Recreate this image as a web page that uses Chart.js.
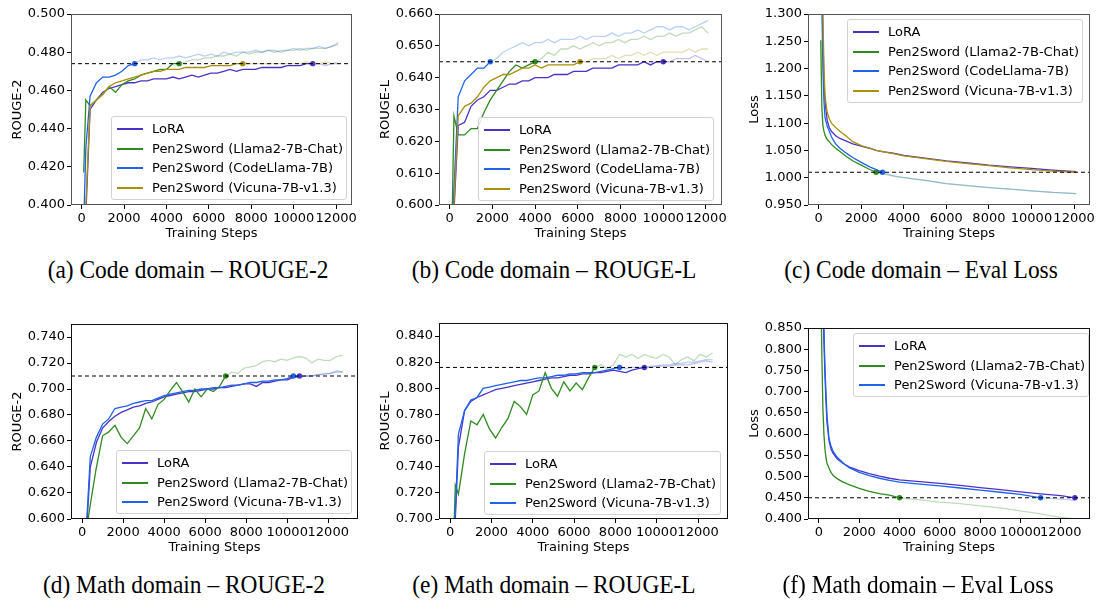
<!DOCTYPE html>
<html lang="en">
<head>
<meta charset="utf-8">
<title>Pen2Sword training curves</title>
<script src="https://cdn.jsdelivr.net/npm/chart.js"></script>
<style>
  body { margin: 0; width: 1097px; height: 600px; position: relative; overflow: hidden; background: #fff; }
  canvas { position: absolute; }
  .legend { position: absolute; box-sizing: border-box; border: 1px solid #d2d2d2; border-radius: 3px; background: rgba(255,255,255,0.85); font-family: "DejaVu Sans", sans-serif; font-size: 13px; color: #000; }
  .legend .row { position: absolute; left: 0; right: 0; height: 16px; line-height: 16px; white-space: nowrap; }
  .legend .sw { position: absolute; left: 5px; top: 7px; width: 26px; height: 2px; }
  .legend .lbl { position: absolute; left: 40px; top: 0; }
  .caption { position: absolute; width: 360px; text-align: center; white-space: nowrap; font-family: "Liberation Serif", "Times New Roman", serif; font-size: 26px; line-height: 28px; color: #000; transform: scaleX(0.9); transform-origin: 50% 50%; }
</style>
</head>
<body>
<script>
// ---------- data ----------
const codeSeries = ['LoRA', 'Pen2Sword (Llama2-7B-Chat)', 'Pen2Sword (CodeLlama-7B)', 'Pen2Sword (Vicuna-7B-v1.3)'];
const mathSeries = ['LoRA', 'Pen2Sword (Llama2-7B-Chat)', 'Pen2Sword (Vicuna-7B-v1.3)'];

const xTicks = [0, 2000, 4000, 6000, 8000, 10000, 12000];

// code domain, ROUGE steps
const codeSteps = [100, 200, 400, 700, 1000, 1300, 1600, 1900, 2200, 2500,
  2800, 3100, 3400, 3700, 4000, 4300, 4600, 4900, 5200, 5500,
  5800, 6100, 6400, 6700, 7000, 7300, 7600, 7900, 8200, 8500,
  8800, 9100, 9400, 9700, 10000, 10300, 10600, 10900, 11200, 11500,
  11800, 12100];

// (a) ROUGE-2
const codeR2Lora = [0.370, 0.395, 0.450, 0.455, 0.459, 0.461, 0.462, 0.463, 0.464, 0.464,
  0.465, 0.465, 0.466, 0.466, 0.466, 0.467, 0.466, 0.467, 0.468, 0.467,
  0.468, 0.469, 0.469, 0.470, 0.471, 0.470, 0.471, 0.471, 0.471, 0.472,
  0.472, 0.472, 0.472, 0.473, 0.473, 0.473, 0.474, 0.474, 0.474, 0.473,
  0.474, 0.474];
const codeR2Llama = [0.417, 0.455, 0.452, 0.455, 0.458, 0.462, 0.459, 0.463, 0.465, 0.466,
  0.468, 0.469, 0.470, 0.471, 0.471, 0.474, 0.474, 0.475, 0.476, 0.476,
  0.477, 0.477, 0.478, 0.478, 0.479, 0.478, 0.480, 0.479, 0.480, 0.480,
  0.481, 0.480, 0.481, 0.481, 0.481, 0.482, 0.481, 0.482, 0.482, 0.482,
  0.483, 0.484];
const codeR2CodeLlama = [0.390, 0.430, 0.457, 0.464, 0.467, 0.467, 0.468, 0.470, 0.473, 0.474,
  0.476, 0.476, 0.477, 0.476, 0.477, 0.477, 0.478, 0.477, 0.478, 0.479,
  0.478, 0.479, 0.478, 0.480, 0.479, 0.480, 0.480, 0.480, 0.481, 0.480,
  0.481, 0.481, 0.480, 0.481, 0.482, 0.481, 0.482, 0.482, 0.483, 0.482,
  0.483, 0.485];
const codeR2Vicuna = [0.370, 0.400, 0.452, 0.455, 0.458, 0.462, 0.464, 0.465, 0.466, 0.467,
  0.468, 0.469, 0.470, 0.470, 0.471, 0.471, 0.471, 0.472, 0.472, 0.472,
  0.472, 0.473, 0.473, 0.473, 0.473, 0.474, 0.474, 0.474, 0.474, 0.474,
  0.474, 0.474, 0.474, 0.474, 0.474, 0.474, 0.475, 0.474, 0.474, 0.475,
  0.474, 0.475];
const codeR2Best = [10900, 4600, 2500, 7600];
const codeR2Line = 0.474;
const codeR2Ticks = [0.40, 0.42, 0.44, 0.46, 0.48, 0.50];

// (b) ROUGE-L
const codeRLLora = [0.585, 0.598, 0.625, 0.626, 0.631, 0.633, 0.634, 0.636, 0.636, 0.637,
  0.638, 0.638, 0.639, 0.639, 0.640, 0.640, 0.640, 0.641, 0.641, 0.641,
  0.642, 0.642, 0.642, 0.643, 0.643, 0.643, 0.643, 0.644, 0.644, 0.644,
  0.644, 0.645, 0.644, 0.645, 0.645, 0.645, 0.646, 0.646, 0.646, 0.647,
  0.646, 0.645];
const codeRLLlama = [0.590, 0.628, 0.622, 0.622, 0.624, 0.624, 0.629, 0.633, 0.636, 0.639,
  0.642, 0.644, 0.643, 0.644, 0.645, 0.646, 0.648, 0.647, 0.649, 0.649,
  0.650, 0.649, 0.650, 0.651, 0.650, 0.651, 0.651, 0.652, 0.651, 0.652,
  0.652, 0.653, 0.652, 0.653, 0.653, 0.654, 0.653, 0.654, 0.654, 0.655,
  0.656, 0.654];
const codeRLCodeLlama = [0.590, 0.605, 0.634, 0.639, 0.641, 0.643, 0.643, 0.645, 0.646, 0.648,
  0.649, 0.650, 0.651, 0.650, 0.651, 0.651, 0.652, 0.651, 0.652, 0.652,
  0.652, 0.653, 0.652, 0.653, 0.653, 0.653, 0.654, 0.653, 0.654, 0.654,
  0.655, 0.654, 0.655, 0.656, 0.656, 0.655, 0.656, 0.656, 0.655, 0.656,
  0.657, 0.658];
const codeRLVicuna = [0.590, 0.600, 0.628, 0.631, 0.632, 0.634, 0.637, 0.639, 0.640, 0.641,
  0.641, 0.642, 0.643, 0.643, 0.644, 0.643, 0.644, 0.644, 0.644, 0.644,
  0.644, 0.645, 0.645, 0.646, 0.646, 0.646, 0.647, 0.646, 0.647, 0.647,
  0.648, 0.647, 0.648, 0.647, 0.648, 0.648, 0.648, 0.648, 0.649, 0.648,
  0.649, 0.649];
const codeRLBest = [10000, 4000, 1900, 6100];
const codeRLLine = 0.645;
const codeRLTicks = [0.60, 0.61, 0.62, 0.63, 0.64, 0.65, 0.66];

// (c) eval loss
const codeLossSteps = [100, 150, 200, 250, 300, 400, 500, 600, 800, 1000,
  1300, 1600, 2000, 2400, 2700, 3000, 3500, 4000, 5000, 6000,
  7000, 8000, 9000, 10000, 11000, 12100];
const codeLossLora = [1.550, 1.400, 1.260, 1.180, 1.140, 1.105, 1.092, 1.085, 1.077, 1.072,
  1.067, 1.062, 1.058, 1.054, 1.050, 1.048, 1.045, 1.041, 1.036, 1.031,
  1.027, 1.023, 1.020, 1.017, 1.014, 1.011];
const codeLossLlama = [1.252, 1.130, 1.095, 1.085, 1.078, 1.070, 1.066, 1.061, 1.054, 1.048,
  1.039, 1.031, 1.023, 1.015, 1.010, 1.007, 1.003, 1.000, 0.995, 0.989,
  0.986, 0.982, 0.979, 0.976, 0.973, 0.971];
const codeLossCodeLlama = [1.450, 1.320, 1.200, 1.140, 1.110, 1.095, 1.085, 1.075, 1.062, 1.054,
  1.045, 1.037, 1.028, 1.020, 1.015, 1.010, 1.004, 1.000, 0.995, 0.989,
  0.985, 0.982, 0.979, 0.976, 0.973, 0.971];
const codeLossVicuna = [1.600, 1.450, 1.300, 1.200, 1.150, 1.120, 1.108, 1.100, 1.092, 1.085,
  1.076, 1.066, 1.059, 1.054, 1.050, 1.048, 1.044, 1.040, 1.035, 1.030,
  1.026, 1.022, 1.018, 1.015, 1.012, 1.010];
const codeLossBest = [null, 2700, 3000, null];
const codeLossLine = 1.010;
const codeLossTicks = [0.95, 1.00, 1.05, 1.10, 1.15, 1.20, 1.25, 1.30];

// math domain, ROUGE steps
const mathSteps = [100, 250, 400, 700, 1000, 1300, 1600, 1900, 2200, 2500,
  2800, 3100, 3400, 3700, 4000, 4300, 4600, 4900, 5200, 5500,
  5800, 6100, 6400, 6700, 7000, 7300, 7600, 7900, 8200, 8500,
  8800, 9100, 9400, 9700, 10000, 10300, 10600, 10900, 11200, 11500,
  11800, 12100, 12400, 12700];

// (d) ROUGE-2
const mathR2Lora = [0.560, 0.600, 0.640, 0.659, 0.670, 0.675, 0.679, 0.682, 0.684, 0.686,
  0.687, 0.689, 0.690, 0.692, 0.694, 0.695, 0.696, 0.697, 0.698, 0.698,
  0.699, 0.700, 0.700, 0.701, 0.701, 0.702, 0.703, 0.704, 0.704, 0.702,
  0.705, 0.705, 0.706, 0.707, 0.707, 0.709, 0.710, 0.710, 0.710, 0.711,
  0.711, 0.712, 0.713, 0.713];
const mathR2Llama = [0.560, 0.595, 0.611, 0.640, 0.664, 0.667, 0.672, 0.663, 0.658, 0.664,
  0.670, 0.685, 0.677, 0.688, 0.692, 0.699, 0.705, 0.698, 0.690, 0.700,
  0.694, 0.700, 0.698, 0.702, 0.710, 0.713, 0.712, 0.716, 0.717, 0.718,
  0.721, 0.722, 0.721, 0.723, 0.722, 0.724, 0.725, 0.724, 0.720, 0.723,
  0.722, 0.722, 0.725, 0.726];
const mathR2Vicuna = [0.560, 0.605, 0.648, 0.663, 0.673, 0.677, 0.685, 0.686, 0.687, 0.689,
  0.690, 0.691, 0.691, 0.693, 0.695, 0.696, 0.697, 0.698, 0.699, 0.699,
  0.700, 0.700, 0.701, 0.701, 0.702, 0.703, 0.703, 0.704, 0.705, 0.705,
  0.706, 0.706, 0.707, 0.707, 0.708, 0.710, 0.709, 0.710, 0.710, 0.711,
  0.712, 0.712, 0.714, 0.713];
const mathR2Best = [10600, 7000, 10300];
const mathR2Line = 0.710;
const mathR2Ticks = [0.60, 0.62, 0.64, 0.66, 0.68, 0.70, 0.72, 0.74];

// (e) ROUGE-L
const mathRLLora = [0.650, 0.700, 0.755, 0.783, 0.790, 0.793, 0.795, 0.797, 0.799, 0.800,
  0.801, 0.802, 0.803, 0.804, 0.805, 0.806, 0.807, 0.808, 0.808, 0.809,
  0.810, 0.810, 0.811, 0.811, 0.812, 0.812, 0.813, 0.814, 0.813, 0.812,
  0.814, 0.815, 0.816, 0.816, 0.817, 0.817, 0.817, 0.818, 0.818, 0.818,
  0.819, 0.820, 0.821, 0.820];
const mathRLLlama = [0.650, 0.726, 0.719, 0.750, 0.775, 0.772, 0.780, 0.769, 0.762, 0.770,
  0.777, 0.790, 0.786, 0.780, 0.795, 0.798, 0.812, 0.800, 0.794, 0.805,
  0.798, 0.804, 0.799, 0.808, 0.816, 0.818, 0.815, 0.818, 0.826, 0.824,
  0.826, 0.823, 0.826, 0.824, 0.823, 0.826, 0.824, 0.818, 0.822, 0.824,
  0.821, 0.826, 0.824, 0.827];
const mathRLVicuna = [0.650, 0.705, 0.765, 0.783, 0.791, 0.793, 0.800, 0.801, 0.802, 0.803,
  0.804, 0.805, 0.806, 0.806, 0.807, 0.808, 0.808, 0.809, 0.810, 0.810,
  0.811, 0.811, 0.812, 0.812, 0.812, 0.813, 0.814, 0.815, 0.816, 0.815,
  0.816, 0.816, 0.816, 0.817, 0.817, 0.818, 0.818, 0.819, 0.819, 0.820,
  0.820, 0.821, 0.822, 0.822];
const mathRLBest = [9400, 7000, 8200];
const mathRLLine = 0.816;
const mathRLTicks = [0.70, 0.72, 0.74, 0.76, 0.78, 0.80, 0.82, 0.84];

// (f) eval loss
const mathLossSteps = [100, 150, 200, 250, 300, 350, 400, 500, 600, 700,
  900, 1200, 1500, 2000, 2500, 3000, 3500, 4000, 5000, 6000,
  7000, 8000, 9000, 10000, 11000, 12000, 12700];
const mathLossLora = [1.500, 1.200, 0.950, 0.820, 0.740, 0.680, 0.630, 0.585, 0.565, 0.555,
  0.542, 0.531, 0.523, 0.514, 0.507, 0.501, 0.496, 0.492, 0.488, 0.484,
  0.479, 0.474, 0.469, 0.464, 0.459, 0.455, 0.450];
const mathLossLlama = [0.950, 0.780, 0.660, 0.600, 0.565, 0.545, 0.532, 0.520, 0.510, 0.503,
  0.495, 0.487, 0.481, 0.472, 0.465, 0.460, 0.456, 0.450, 0.445, 0.440,
  0.436, 0.431, 0.426, 0.419, 0.412, 0.404, 0.400];
const mathLossVicuna = [1.500, 1.200, 0.970, 0.850, 0.760, 0.700, 0.645, 0.590, 0.572, 0.560,
  0.546, 0.532, 0.521, 0.510, 0.502, 0.496, 0.491, 0.487, 0.482, 0.478,
  0.473, 0.468, 0.463, 0.458, 0.450, 0.447, 0.444];
const mathLossBest = [12700, 4000, 11000];
const mathLossLine = 0.450;
const mathLossTicks = [0.40, 0.45, 0.50, 0.55, 0.60, 0.65, 0.70, 0.75, 0.80, 0.85];

// ---------- styling ----------
const purple = '#4a32c8', green = '#2f8a1f', blue = '#1f62e8', olive = '#a8900c';
const codeColors = [purple, green, blue, olive];
const mathColors = [purple, green, blue];

function fade(hex, a) {
  const n = parseInt(hex.slice(1), 16);
  return 'rgba(' + (n >> 16) + ',' + ((n >> 8) & 255) + ',' + (n & 255) + ',' + a + ')';
}

Chart.defaults.font.family = '"DejaVu Sans", sans-serif';
Chart.defaults.font.size = 13;
Chart.defaults.color = '#000';

const frame = {
  id: 'frame',
  afterDatasetsDraw(chart, args, opts) {
    const a = chart.chartArea, g = chart.ctx;
    g.save();
    g.strokeStyle = opts.color;
    g.lineWidth = 1;
    g.strokeRect(Math.round(a.left) + 0.5, Math.round(a.top) + 0.5,
      Math.round(a.right - a.left) - 1, Math.round(a.bottom - a.top) - 1);
    g.restore();
  }
};

// box = plot area [left, top, right, bottom] on the page
const panels = [
  { box: [71, 14, 352, 205], rowTop: 0, spine: '#555', steps: codeSteps, names: codeSeries, colors: codeColors,
    values: [codeR2Lora, codeR2Llama, codeR2CodeLlama, codeR2Vicuna], best: codeR2Best, line: codeR2Line,
    yMin: 0.40, yMax: 0.50, yTicks: codeR2Ticks, xMin: -500, xMax: 12750, yTitle: 'ROUGE-2',
    legend: [111, 116, 236, 84], caption: '(a) Code domain – ROUGE-2', capX: 188, capY: 270 },
  { box: [439, 14, 722, 205], rowTop: 0, spine: '#555', steps: codeSteps, names: codeSeries, colors: codeColors,
    values: [codeRLLora, codeRLLlama, codeRLCodeLlama, codeRLVicuna], best: codeRLBest, line: codeRLLine,
    yMin: 0.60, yMax: 0.66, yTicks: codeRLTicks, xMin: -500, xMax: 12750, yTitle: 'ROUGE-L',
    legend: [478, 117, 236, 84], caption: '(b) Code domain – ROUGE-L', capX: 554, capY: 270 },
  { box: [808, 14, 1090, 205], rowTop: 0, spine: '#555', steps: codeLossSteps, names: codeSeries, colors: codeColors,
    values: [codeLossLora, codeLossLlama, codeLossCodeLlama, codeLossVicuna], best: codeLossBest, line: codeLossLine,
    yMin: 0.95, yMax: 1.30, yTicks: codeLossTicks, xMin: -500, xMax: 12750, yTitle: 'Loss',
    legend: [847, 19, 236, 84], caption: '(c) Code domain – Eval Loss', capX: 921, capY: 270 },
  { box: [71, 324, 358, 519], rowTop: 310, spine: '#111', steps: mathSteps, names: mathSeries, colors: mathColors,
    values: [mathR2Lora, mathR2Llama, mathR2Vicuna], best: mathR2Best, line: mathR2Line,
    yMin: 0.60, yMax: 0.75, yTicks: mathR2Ticks, xMin: -540, xMax: 13450, yTitle: 'ROUGE-2',
    legend: [116, 450, 236, 64], caption: '(d) Math domain – ROUGE-2', capX: 184, capY: 585 },
  { box: [439, 323, 728, 519], rowTop: 310, spine: '#111', steps: mathSteps, names: mathSeries, colors: mathColors,
    values: [mathRLLora, mathRLLlama, mathRLVicuna], best: mathRLBest, line: mathRLLine,
    yMin: 0.70, yMax: 0.85, yTicks: mathRLTicks, xMin: -540, xMax: 13450, yTitle: 'ROUGE-L',
    legend: [484, 451, 237, 64], caption: '(e) Math domain – ROUGE-L', capX: 554, capY: 585 },
  { box: [808, 328, 1090, 519], rowTop: 310, spine: '#111', steps: mathLossSteps, names: mathSeries, colors: mathColors,
    values: [mathLossLora, mathLossLlama, mathLossVicuna], best: mathLossBest, line: mathLossLine,
    yMin: 0.40, yMax: 0.85, yTicks: mathLossTicks, xMin: -540, xMax: 13450, yTitle: 'Loss',
    legend: [853, 333, 236, 64], caption: '(f) Math domain – Eval Loss', capX: 918, capY: 585 }
];

panels.forEach(p => {
  const [L, T, R, B] = p.box;
  const cx = L - 71, cy = p.rowTop;
  const cw = R - cx + 10, ch = B - cy + 40;
  const cv = document.createElement('canvas');
  cv.width = cw; cv.height = ch;
  cv.style.left = cx + 'px'; cv.style.top = cy + 'px';
  cv.style.width = cw + 'px'; cv.style.height = ch + 'px';
  document.body.appendChild(cv);

  const datasets = [{
    data: [{ x: p.xMin, y: p.line }, { x: p.xMax, y: p.line }],
    borderColor: '#000', borderWidth: 1, borderDash: [4, 3], pointRadius: 0, order: 0
  }];
  p.values.forEach((vals, i) => {
    const col = p.colors[i];
    const k = p.best[i] == null ? -1 : p.steps.indexOf(p.best[i]);
    const stopIdx = k < 0 ? Infinity : k;
    datasets.push({
      label: p.names[i],
      data: p.steps.map((s, j) => ({ x: s, y: vals[j] })),
      borderColor: col,
      borderWidth: 1.3,
      tension: 0,
      segment: { borderColor: c => c.p0DataIndex >= stopIdx ? fade(col, 0.3) : col },
      pointRadius: c => c.dataIndex === stopIdx ? 2.7 : 0,
      pointBackgroundColor: col,
      pointBorderWidth: 0,
      order: p.values.length - i
    });
  });

  new Chart(cv, {
    type: 'line',
    data: { datasets },
    options: {
      responsive: false,
      animation: false,
      events: [],
      layout: { padding: { top: T - cy, right: 10, left: 0, bottom: 0 } },
      plugins: { legend: { display: false }, tooltip: { enabled: false }, frame: { color: p.spine } },
      scales: {
        x: {
          type: 'linear', min: p.xMin, max: p.xMax,
          afterFit: s => { s.height = 40; },
          afterBuildTicks: s => { s.ticks = xTicks.map(v => ({ value: v })); },
          ticks: { callback: v => String(v), padding: 2, autoSkip: false, maxRotation: 0, minRotation: 0 },
          grid: { drawOnChartArea: false, tickLength: 4, color: '#000' },
          border: { display: false },
          title: { display: true, text: 'Training Steps', padding: { top: 0, bottom: 4 } }
        },
        y: {
          type: 'linear', min: p.yMin, max: p.yMax,
          afterFit: s => { s.width = 71; },
          afterBuildTicks: s => { s.ticks = p.yTicks.map(v => ({ value: v })); },
          ticks: { callback: v => v.toFixed(3), padding: 2 },
          grid: { drawOnChartArea: false, tickLength: 4, color: '#000' },
          border: { display: false },
          title: { display: true, text: p.yTitle, padding: { top: 10, bottom: 0 } }
        }
      }
    },
    plugins: [frame]
  });

  // legend box inside the axes
  const [lx, ly, lw, lh] = p.legend;
  const lg = document.createElement('div');
  lg.className = 'legend';
  lg.style.left = lx + 'px'; lg.style.top = ly + 'px';
  lg.style.width = lw + 'px'; lg.style.height = lh + 'px';
  p.names.forEach((name, i) => {
    const row = document.createElement('div');
    row.className = 'row';
    row.style.top = (4 + i * 19.5) + 'px';
    const sw = document.createElement('div');
    sw.className = 'sw';
    sw.style.background = p.colors[i];
    const lbl = document.createElement('span');
    lbl.className = 'lbl';
    lbl.textContent = name;
    row.appendChild(sw); row.appendChild(lbl);
    lg.appendChild(row);
  });
  document.body.appendChild(lg);

  const cap = document.createElement('div');
  cap.className = 'caption';
  cap.textContent = p.caption;
  cap.style.left = (p.capX - 180) + 'px';
  cap.style.top = (p.capY - 14) + 'px';
  document.body.appendChild(cap);
});
</script>
</body>
</html>
